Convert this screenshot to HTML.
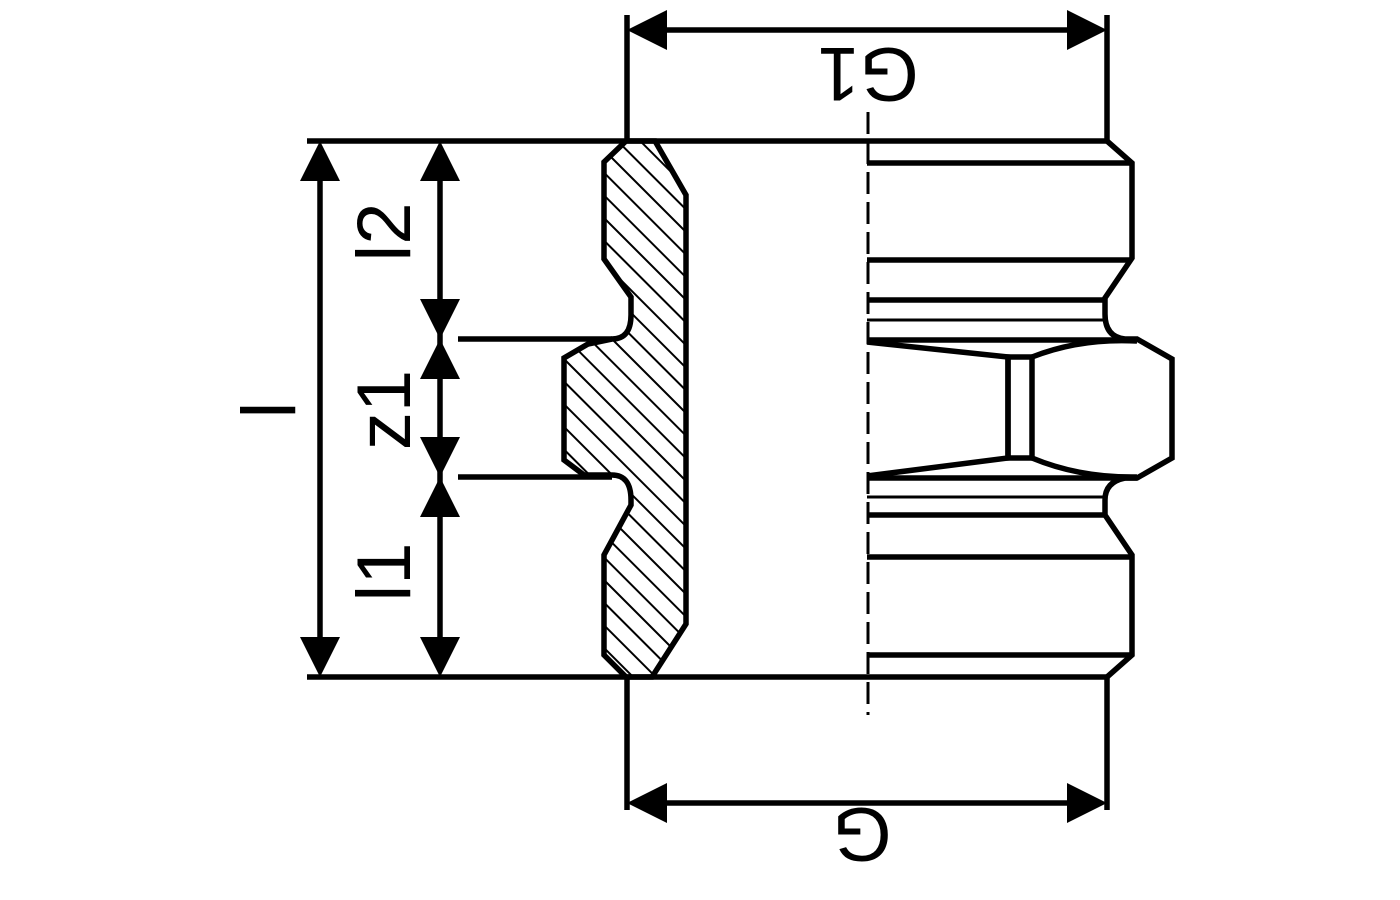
<!DOCTYPE html>
<html><head><style>body{margin:0;background:#fff}svg{display:block}</style></head><body>
<svg width="1400" height="900" viewBox="0 0 1400 900" xmlns="http://www.w3.org/2000/svg">
<defs>
<pattern id="h" patternUnits="userSpaceOnUse" width="16" height="16" patternTransform="rotate(-45)">
<line x1="0" y1="0" x2="0" y2="16" stroke="#000" stroke-width="4"/>
</pattern>
<clipPath id="c"><path d="M626,141 L604,162 L604,259 L631,297 L631,315 Q631,339 612,339 L588,344 L564,358 L564,460 L584,475 L612,475 Q631,475 631,500 L631,505 L604,555 L604,655 L626,677 L652,677 L686,624 L686,195 L655,141 Z"/></clipPath>
</defs>
<g fill="none" stroke="#000" stroke-width="5.5">
<line x1="307" y1="141" x2="1107" y2="141"/>
<line x1="307" y1="677" x2="1107" y2="677"/>
<rect x="540" y="130" width="160" height="560" fill="url(#h)" stroke="none" clip-path="url(#c)"/>
<path d="M626,141 L604,162 L604,259 L631,297 L631,315 Q631,339 612,339 L588,344 L564,358 L564,460 L584,475 L612,475 Q631,475 631,500 L631,505 L604,555 L604,655 L626,677 L652,677 L686,624 L686,195 L655,141 Z"/>
<line x1="458" y1="339" x2="612" y2="339"/>
<line x1="458" y1="477" x2="612" y2="477"/>
<line x1="627" y1="15" x2="627" y2="141"/>
<line x1="1107" y1="15" x2="1107" y2="141"/>
<line x1="627" y1="677" x2="627" y2="810"/>
<line x1="1107" y1="677" x2="1107" y2="810"/>
<line x1="660" y1="30" x2="1075" y2="30"/>
<line x1="660" y1="803" x2="1075" y2="803"/>
<line x1="320" y1="175" x2="320" y2="645"/>
<line x1="440" y1="175" x2="440" y2="645"/>
<path d="M1107,141 L1132,163 L1132,258 L1105,298 L1105,314 Q1105,337 1125,339 L1137,339 L1172,359 L1172,458 L1137,478 L1125,478 Q1105,482 1105,500 L1105,515 L1132,555 L1132,655 L1107,677"/>
<line x1="867" y1="163" x2="1132" y2="163"/>
<line x1="867" y1="260" x2="1132" y2="260"/>
<line x1="867" y1="300" x2="1105" y2="300"/>
<line x1="867" y1="320" x2="1105" y2="320" stroke-width="3"/>
<line x1="867" y1="340" x2="1137" y2="340"/>
<line x1="867" y1="478" x2="1137" y2="478"/>
<line x1="867" y1="497" x2="1105" y2="497" stroke-width="3"/>
<line x1="867" y1="515" x2="1105" y2="515"/>
<line x1="867" y1="557" x2="1132" y2="557"/>
<line x1="867" y1="655" x2="1132" y2="655"/>
<path d="M867,342 L1008,357 L1008,458 L867,476"/>
<rect x="1008" y="357" width="24" height="101"/>
<path d="M1032,357 Q1080,338 1137,341 M1032,458 Q1080,478 1137,477"/>
<line x1="868" y1="112" x2="868" y2="715" stroke-width="3" stroke-dasharray="22,8"/>
</g>
<g fill="#000">
<path d="M320,141 L300,181 L340,181Z"/><path d="M320,677 L300,637 L340,637Z"/>
<path d="M440,141 L420,181 L460,181Z"/><path d="M440,339 L420,299 L460,299Z"/>
<path d="M440,339 L420,379 L460,379Z"/><path d="M440,477 L420,437 L460,437Z"/>
<path d="M440,477 L420,517 L460,517Z"/><path d="M440,677 L420,637 L460,637Z"/>
<path d="M627,30 L667,10 L667,50Z"/><path d="M1107,30 L1067,10 L1067,50Z"/>
<path d="M627,803 L667,783 L667,823Z"/><path d="M1107,803 L1067,783 L1067,823Z"/>
</g>
<g font-family="Liberation Sans, sans-serif" font-size="76" fill="#000" text-anchor="middle">
<text transform="translate(410,232) rotate(-90)">l2</text>
<text transform="translate(410,410) rotate(-90)">z1</text>
<text transform="translate(410,572) rotate(-90)">l1</text>
<text transform="translate(295,410) rotate(-90)">l</text>
<text transform="translate(868,48) rotate(180)">G1</text>
<text transform="translate(862,808) rotate(180)">G</text>
</g>
</svg>
</body></html>
